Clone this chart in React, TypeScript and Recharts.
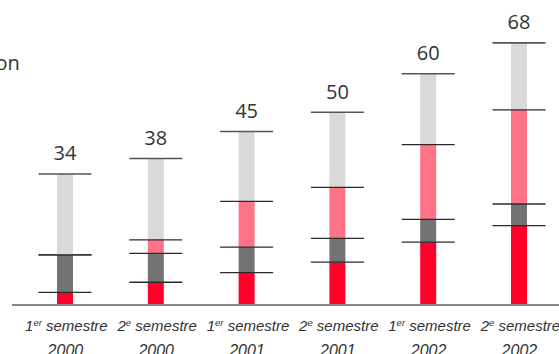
import React from "react";
import { BarChart, Bar, XAxis, YAxis, LabelList } from "recharts";

const halves = ["1", "2", "1", "2", "1", "2"];
const suffixes = ["er", "e", "er", "e", "er", "e"];
const years = ["2000", "2000", "2001", "2001", "2002", "2002"];
const redValues = [3.3, 5.9, 8.4, 11.1, 16.3, 20.6];
const darkGrayValues = [9.7, 7.5, 6.6, 6.2, 5.9, 5.6];
const pinkValues = [0, 3.5, 11.9, 13.2, 19.4, 24.4];
const lightGrayValues = [21, 21.1, 18.1, 19.5, 18.4, 17.4];
const totals = [34, 38, 45, 50, 60, 68];

const data = years.map((y, i) => ({
  key: String(i),
  half: halves[i],
  suffix: suffixes[i],
  year: y,
  red: redValues[i],
  dgray: darkGrayValues[i],
  pink: pinkValues[i],
  lgray: lightGrayValues[i],
  total: totals[i],
}));

const LINE_HALF = 26.5;
const LINE_COLOR = "#2a2a2a";

const makeShape = (color: string, drawBottom: boolean, drawTop: boolean) => (props: any) => {
  const { x, y, width, height } = props;
  if (x == null || y == null) return <g />;
  const cx = x + width / 2;
  const h = Math.max(0, height || 0);
  return (
    <g>
      {h > 0 && <rect x={x} y={y} width={width} height={h} fill={color} />}
      {drawBottom && (
        <line x1={cx - LINE_HALF} x2={cx + LINE_HALF} y1={y + h} y2={y + h} stroke={LINE_COLOR} strokeWidth={1.3} />
      )}
      {drawTop && (
        <line x1={cx - LINE_HALF} x2={cx + LINE_HALF} y1={y} y2={y} stroke="#555" strokeWidth={1.6} />
      )}
    </g>
  );
};

const Tick = (props: any) => {
  const { x, y, payload } = props;
  const d = data[payload.index] || data.find((r) => r.key === payload.value);
  if (!d) return <g />;
  return (
    <g>
      <text
        x={x + 1}
        y={y + 26}
        textAnchor="middle"
        fontFamily="Liberation Sans, Arial, sans-serif"
        fontStyle="italic"
        fontSize={15}
        fill="#333"
      >
        <tspan>{d.half}</tspan>
        <tspan dy={-5.5} fontSize={9.5}>{d.suffix}</tspan>
        <tspan dy={5.5}> semestre</tspan>
      </text>
      <text
        x={x}
        y={y + 51}
        textAnchor="middle"
        fontFamily="Liberation Sans, Arial, sans-serif"
        fontStyle="italic"
        fontSize={16}
        fill="#333"
      >
        {d.year}
      </text>
    </g>
  );
};

const TotalLabel = (props: any) => {
  const { x, y, width, value } = props;
  return (
    <text
      x={x + width / 2}
      y={y - 13.5}
      textAnchor="middle"
      fontFamily="Open Sans, sans-serif"
      fontSize={20}
      fill="#333"
    >
      {value}
    </text>
  );
};

export default function App() {
  return (
    <div
      style={{
        position: "absolute",
        left: 0,
        top: 0,
        width: 559,
        height: 354,
        overflow: "hidden",
        background: "#fff",
      }}
    >
      <svg
        width={60}
        height={90}
        style={{ position: "absolute", left: 0, top: 0 }}
      >
        <text x={19.8} y={70} textAnchor="end" fontFamily="Open Sans, sans-serif" fontSize={20} fill="#333">
          on
        </text>
      </svg>
      <BarChart
        width={570}
        height={354}
        data={data}
        margin={{ top: 15.875, right: 5.2, bottom: 0, left: 12 }}
        barSize={16}
        style={{ position: "absolute", left: 0, top: 0 }}
      >
        <XAxis
          dataKey="key"
          height={49}
          tickLine={false}
          tickSize={0}
          tickMargin={0}
          axisLine={{ stroke: "#888", strokeWidth: 2 }}
          padding={{ left: 8, right: 0 }}
          interval={0}
          tick={<Tick />}
        />
        <YAxis hide domain={[0, 75]} />
        <Bar dataKey="red" stackId="a" fill="#ff0028" isAnimationActive={false} shape={makeShape("#ff0028", false, false)} />
        <Bar dataKey="dgray" stackId="a" fill="#737373" isAnimationActive={false} shape={makeShape("#737373", true, false)} />
        <Bar dataKey="pink" stackId="a" fill="#ff7386" isAnimationActive={false} shape={makeShape("#ff7386", true, false)} />
        <Bar dataKey="lgray" stackId="a" fill="#d9d9d9" isAnimationActive={false} shape={makeShape("#d9d9d9", true, true)}>
          <LabelList dataKey="total" content={<TotalLabel />} />
        </Bar>
      </BarChart>
    </div>
  );
}
